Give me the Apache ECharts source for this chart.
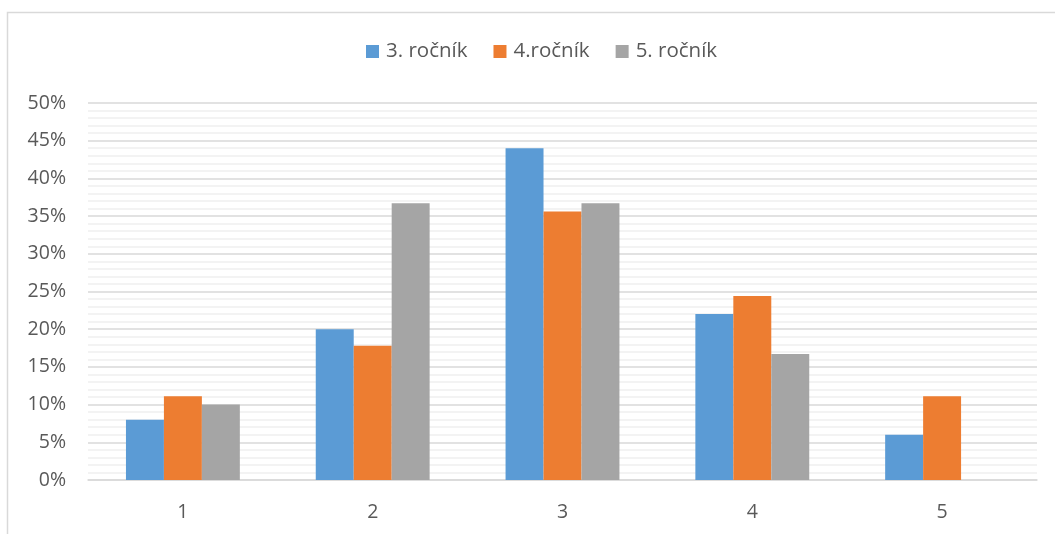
<!DOCTYPE html>
<html>
<head>
<meta charset="utf-8">
<script src="https://cdn.jsdelivr.net/npm/echarts@6/dist/echarts.min.js"></script>
<style>
  html, body { margin: 0; padding: 0; background: #ffffff; }
  #chart { width: 1055px; height: 534px; }
</style>
</head>
<body>
<div id="chart"></div>
<script>
// Grades 1–5, share of students per year group (in %)
const categories = ['1', '2', '3', '4', '5'];
const seriesNames = ['3. ročník', '4.ročník', '5. ročník'];
const rocnik3 = [8, 20, 44, 22, 6];
const rocnik4 = [11.1, 17.8, 35.6, 24.4, 11.1];
const rocnik5 = [10, 36.7, 36.7, 16.7, 0];
const colors = ['#5B9BD5', '#ED7D31', '#A5A5A5'];

const font = '"Open Sans", "Noto Sans", sans-serif';
const textColor = '#595959';

const chart = echarts.init(document.getElementById('chart'), null, { renderer: 'canvas' });

const values = [rocnik3, rocnik4, rocnik5];

chart.setOption({
  animation: false,
  backgroundColor: '#ffffff',
  textStyle: { fontFamily: font },
  color: colors,
  graphic: [{
    type: 'rect',
    shape: { x: 7.5, y: 12.5, width: 1060, height: 540 },
    style: { fill: 'none', stroke: '#D9D9D9', lineWidth: 1.5 },
    silent: true
  }],
  legend: {
    top: 36,
    left: 361,
    itemWidth: 13,
    itemHeight: 13,
    itemGap: 26,
    icon: 'rect',
    textStyle: { fontSize: 20.5, color: textColor, fontFamily: font, padding: [0, 0, 0, 2] },
    data: seriesNames
  },
  grid: { left: 88, right: 18, top: 103, bottom: 54, containLabel: false },
  xAxis: {
    type: 'category',
    data: categories,
    axisLine: { lineStyle: { color: '#D9D9D9', width: 1.5 } },
    axisTick: { show: false },
    axisLabel: { fontSize: 19.5, color: textColor, margin: 22, fontFamily: font }
  },
  yAxis: {
    type: 'value',
    min: 0,
    max: 50,
    interval: 5,
    axisLine: { show: false },
    axisTick: { show: false },
    axisLabel: { fontSize: 19.5, color: textColor, margin: 22, fontFamily: font, formatter: '{value}%' },
    splitLine: { lineStyle: { color: '#D9D9D9', width: 1.5 } },
    minorTick: { show: false, splitNumber: 5 },
    minorSplitLine: { show: true, lineStyle: { color: '#F0F0F0', width: 1.5 } }
  },
  series: seriesNames.map((name, i) => ({
    name: name,
    type: 'bar',
    data: values[i],
    barGap: '0%',
    barCategoryGap: '40%',
    itemStyle: { color: colors[i] }
  }))
});
</script>
</body>
</html>
